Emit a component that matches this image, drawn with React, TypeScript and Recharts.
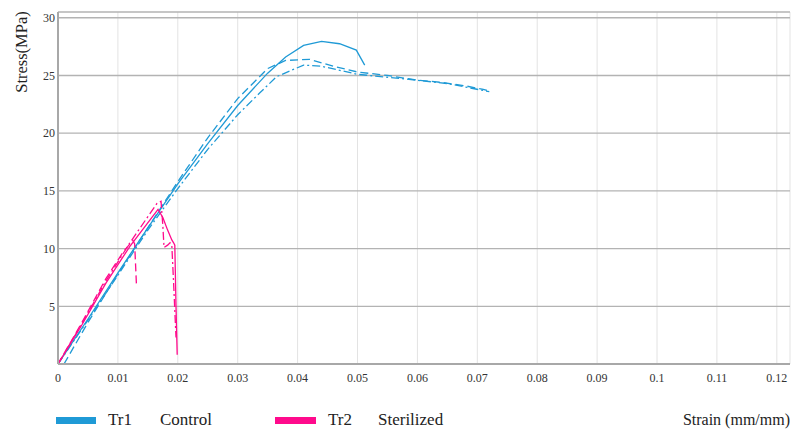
import { CartesianGrid, Line, LineChart, XAxis, YAxis } from "recharts";

// 应力-应变曲线：Tr1 对照组（蓝）与 Tr2 灭菌组（粉），每组三个试样
// 每条曲线为 [应变 mm/mm, 应力 MPa] 点列

const tr1Solid: [number, number][] = [
  [0, 0], [0.005, 3.9], [0.01, 7.9], [0.015, 11.8], [0.02, 15.6],
  [0.025, 19.1], [0.03, 22.4], [0.035, 25.2], [0.038, 26.6], [0.041, 27.6],
  [0.044, 27.95], [0.047, 27.75], [0.0498, 27.2], [0.0512, 25.9],
];

const tr1Dashed: [number, number][] = [
  [0.001, 0], [0.005, 3.6], [0.01, 7.8], [0.015, 11.8], [0.02, 15.8],
  [0.025, 19.6], [0.03, 23.0], [0.035, 25.6], [0.038, 26.3], [0.042, 26.4],
  [0.046, 25.8], [0.05, 25.3], [0.055, 25.0], [0.06, 24.6], [0.064, 24.4],
  [0.068, 24.1], [0.071, 23.8], [0.0722, 23.6],
];

const tr1DashDot: [number, number][] = [
  [0, 0], [0.005, 3.8], [0.01, 7.7], [0.015, 11.6], [0.02, 15.2],
  [0.025, 18.6], [0.03, 21.6], [0.0337, 23.5], [0.0365, 24.9], [0.041, 25.9],
  [0.044, 25.8], [0.05, 25.1], [0.058, 24.7], [0.065, 24.3], [0.072, 23.6],
];

const tr2Solid: [number, number][] = [
  [0, 0], [0.004, 3.4], [0.008, 7.0], [0.012, 10.2], [0.0167, 13.4],
  [0.0175, 12.7], [0.0183, 11.6], [0.019, 10.75], [0.0193, 10.5],
  [0.0195, 10.3], [0.0197, 5.0], [0.0199, 0.8],
];

const tr2Dashed: [number, number][] = [
  [0, 0], [0.004, 3.6], [0.008, 7.4], [0.011, 9.8], [0.0125, 10.7],
  [0.0128, 10.4], [0.0131, 6.8],
];

const tr2DashDot: [number, number][] = [
  [0, 0], [0.004, 3.5], [0.008, 7.2], [0.012, 10.5], [0.0165, 13.9],
  [0.0172, 14.1], [0.0175, 12.0], [0.0177, 10.1], [0.0183, 10.3],
  [0.0187, 10.5], [0.019, 10.3], [0.0193, 7.0], [0.0197, 2.3],
];

const strainTicks = [0, 0.01, 0.02, 0.03, 0.04, 0.05, 0.06, 0.07, 0.08, 0.09, 0.1, 0.11, 0.12];
const stressTicks = [5, 10, 15, 20, 25, 30];

const BLUE = "#1f9ad6";
const PINK = "#ff0a8c";
const FONT = "Liberation Serif";

const toPoints = (pairs: [number, number][]) => pairs.map(([x, y]) => ({ x, y }));

const curves = [
  { key: "tr1-solid", data: tr1Solid, color: BLUE, dash: undefined },
  { key: "tr1-dashed", data: tr1Dashed, color: BLUE, dash: "8 4" },
  { key: "tr1-dashdot", data: tr1DashDot, color: BLUE, dash: "8 3 2 3" },
  { key: "tr2-solid", data: tr2Solid, color: PINK, dash: undefined },
  { key: "tr2-dashed", data: tr2Dashed, color: PINK, dash: "8 4" },
  { key: "tr2-dashdot", data: tr2DashDot, color: PINK, dash: "8 3 2 3" },
];

const textStyle = { fontFamily: FONT };
const tickStyle = { fontSize: 12, fill: "#333", style: textStyle };

export default function App() {
  return (
    <div style={{ position: "relative", width: 788, height: 422, fontFamily: FONT }}>
      <LineChart
        width={788}
        height={400}
        margin={{ top: 4, right: 6, left: 0, bottom: 0 }}
        style={textStyle}
      >
        {/* 纵向网格浅灰，横向网格深灰 */}
        <CartesianGrid horizontal={false} stroke="#e3e3e3" strokeWidth={1} />
        <CartesianGrid vertical={false} stroke="#b3b3b3" strokeWidth={1.3} />
        <XAxis
          type="number"
          dataKey="x"
          domain={[0, 0.1222]}
          ticks={strainTicks}
          allowDataOverflow
          height={44}
          tickLine={false}
          tickSize={0}
          tickMargin={9}
          axisLine={{ stroke: "#a8a8a8", strokeWidth: 2 }}
          tick={tickStyle}
        />
        <YAxis
          type="number"
          dataKey="y"
          domain={[0, 30.5]}
          ticks={stressTicks}
          allowDataOverflow
          width={50}
          tickLine={false}
          tickSize={0}
          tickMargin={3}
          axisLine={{ stroke: "#a8a8a8", strokeWidth: 2 }}
          tick={tickStyle}
        />
        {curves.map((c) => (
          <Line
            key={c.key}
            data={toPoints(c.data)}
            dataKey="y"
            type="linear"
            stroke={c.color}
            strokeWidth={1.3}
            strokeDasharray={c.dash}
            dot={false}
            activeDot={false}
            isAnimationActive={false}
          />
        ))}
      </LineChart>
      <svg
        width={788}
        height={422}
        style={{ position: "absolute", left: 0, top: 0, pointerEvents: "none" }}
      >
        <text
          x={19}
          y={44}
          fontSize={16.5}
          fill="#222"
          textAnchor="middle"
          transform="rotate(-90, 19, 44)"
          style={textStyle}
        >
          Stress(MPa)
        </text>
        <rect x={48} y={409} width={40} height={7} fill={BLUE} />
        <text x={100} y={417} fontSize={17} fill="#222" style={textStyle}>Tr1</text>
        <text x={152} y={417} fontSize={17} fill="#222" style={textStyle}>Control</text>
        <rect x={267} y={409} width={41} height={7} fill={PINK} />
        <text x={320} y={417} fontSize={17} fill="#222" style={textStyle}>Tr2</text>
        <text x={370} y={417} fontSize={17} fill="#222" style={textStyle}>Sterilized</text>
        <text x={782} y={417} fontSize={16} fill="#222" textAnchor="end" style={textStyle}>
          Strain (mm/mm)
        </text>
      </svg>
    </div>
  );
}
